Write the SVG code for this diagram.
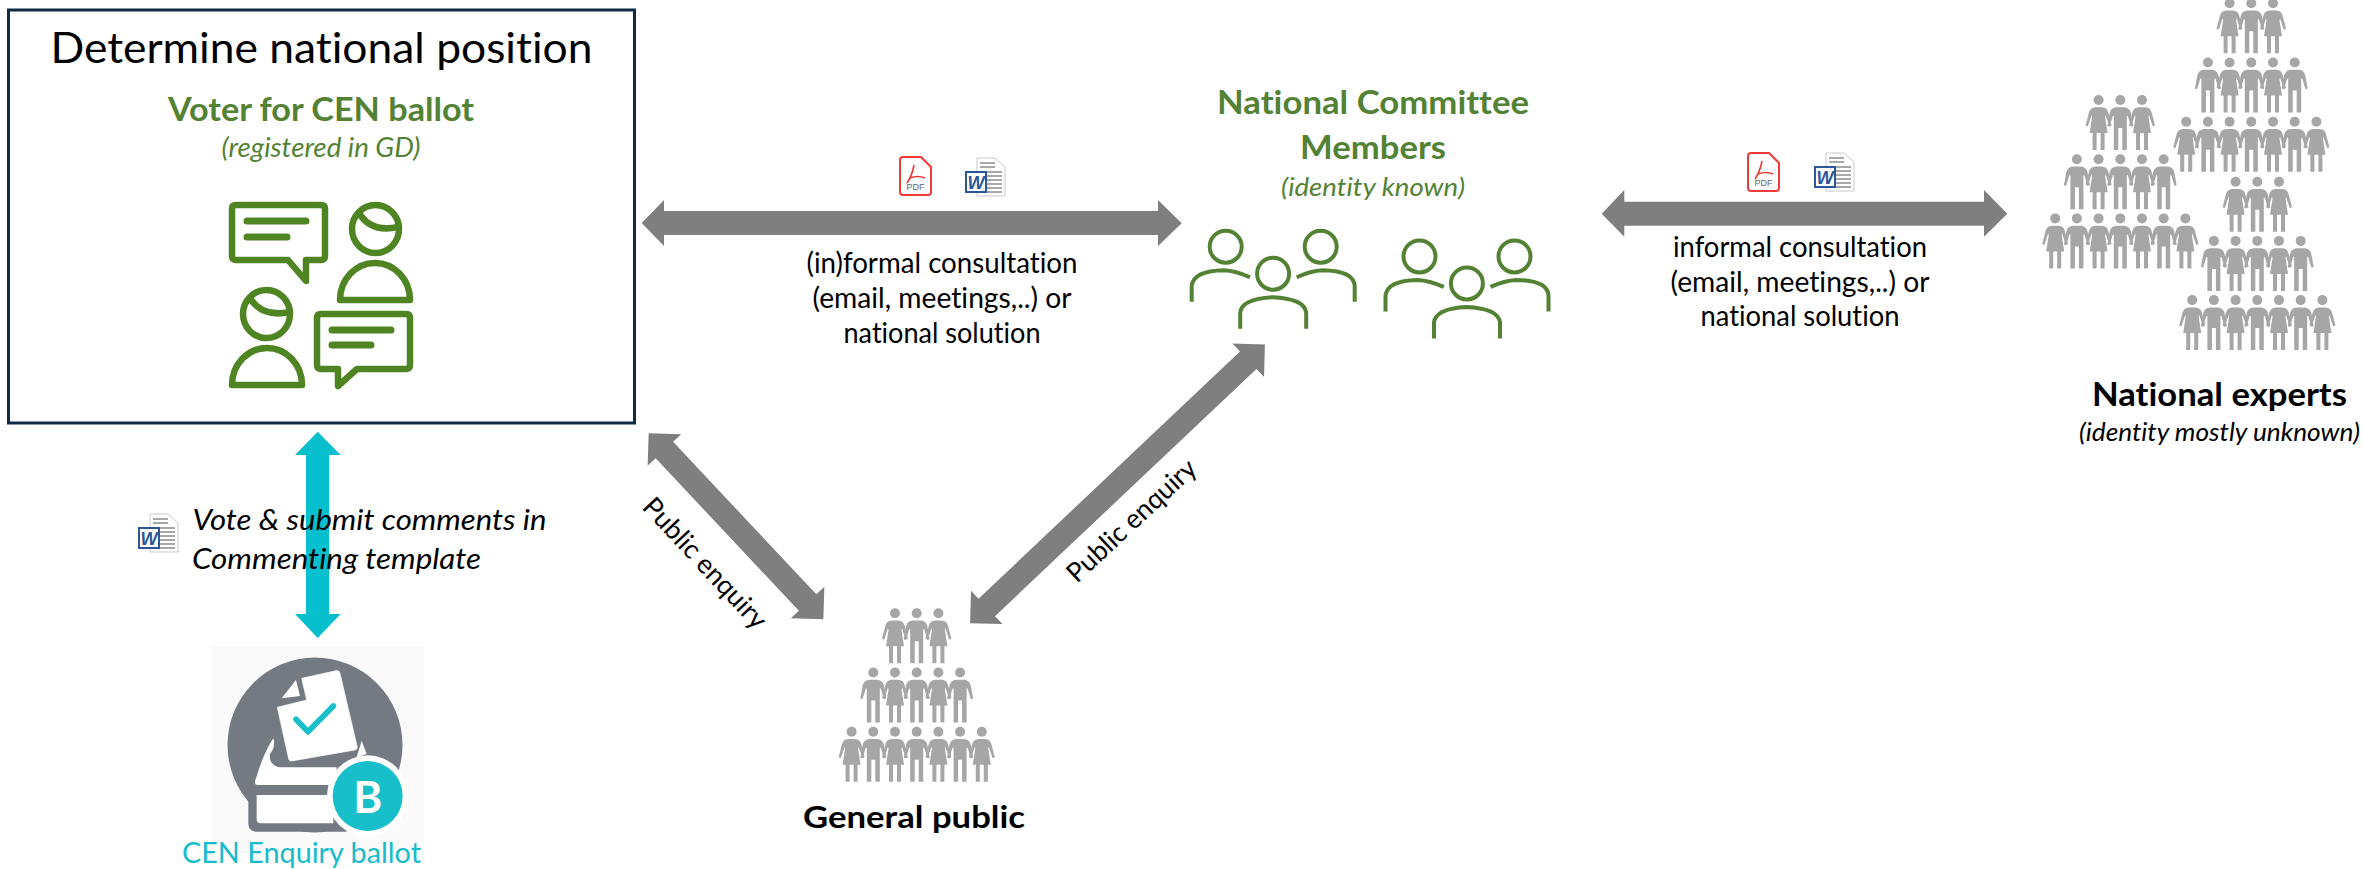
<svg xmlns="http://www.w3.org/2000/svg" xmlns:xlink="http://www.w3.org/1999/xlink" width="2363" height="869" viewBox="0 0 2363 869">
<style>
text{font-family:Lato,"Open Sans","Liberation Sans",sans-serif;fill:#000;text-anchor:middle;font-variant-ligatures:none}
.g{fill:#548235}
.b{font-weight:700}
.i{font-style:italic}
.arrow{fill:#7f7f7f}
.cyan{fill:#08bfcd}
.ic{fill:none;stroke:#4e8421;stroke-width:6.5;stroke-linecap:round;stroke-linejoin:round}
.pp{fill:none;stroke:#548235;stroke-width:4}
.fig{fill:#a6a6a6}
</style>
<defs>
<g id="w"><circle r="5" class="fig"/><path class="fig" d="M-3.5,7.3H3.5Q8,7.6 9.5,12L13,25.5L10.8,26.5L7,15L6.5,17L9,33H6V50H2V33H-2V50H-6V33H-9L-6.5,17L-7,15L-10.8,26.5L-13,25.5L-9.5,12Q-8,7.6 -3.5,7.3Z"/></g>
<g id="m"><circle r="5" class="fig"/><path class="fig" d="M-4,7.3H4Q9,7.6 10.5,12.5L13,26L10.8,26.8L7.5,16H6.5V50H2V28H-2V50H-6.5V16H-7.5L-10.8,26.8L-13,26L-10.5,12.5Q-9,7.6 -4,7.3Z"/></g>
<g id="pyr">
<use href="#w" x="-21.7"/><use href="#m"/><use href="#w" x="21.7"/>
<use href="#m" x="-43.4" y="59.2"/><use href="#w" x="-21.7" y="59.2"/><use href="#m" y="59.2"/><use href="#w" x="21.7" y="59.2"/><use href="#m" x="43.4" y="59.2"/>
<use href="#w" x="-65.1" y="118.4"/><use href="#m" x="-43.4" y="118.4"/><use href="#w" x="-21.7" y="118.4"/><use href="#m" y="118.4"/><use href="#w" x="21.7" y="118.4"/><use href="#m" x="43.4" y="118.4"/><use href="#w" x="65.1" y="118.4"/>
</g>
<g id="word">
<path d="M12,0H30L40,9V38H12Z" fill="#fff" stroke="#c8c8c8" stroke-width="1"/>
<path d="M15,5H30M15,9H30M22,14H37M22,18H37M22,22H37M22,26H37M22,30H37M15,34H37" stroke="#a8a8a8" stroke-width="2" fill="none"/>
<rect x="1" y="14" width="20" height="20" fill="#fff" stroke="#2b579a" stroke-width="2"/>
<text x="11" y="30.5" style="font-family:'Liberation Sans',sans-serif;font-weight:700;font-style:italic;font-size:18px;fill:#2b579a">W</text>
</g>
<g id="pdf">
<path d="M4,1H22L32,11V36Q32,39 29,39H4Q1,39 1,36V4Q1,1 4,1Z" fill="#fff" stroke="#f03a3a" stroke-width="2"/>
<path d="M15,9Q13,20 8,27M11,22Q19,19 26,22" fill="none" stroke="#e8382f" stroke-width="1.6"/>
<text x="16.5" y="34" style="font-family:'Liberation Sans',sans-serif;font-size:9px;fill:#666">PDF</text>
</g>
<g id="people">
<circle cx="0" cy="0" r="16"/>
<circle cx="95" cy="0" r="16"/>
<circle cx="47.4" cy="27" r="16"/>
<path d="M-34,55V39Q-32,24 -2,23.5Q10,24 24.3,30.5"/>
<path d="M71,30.5Q85,24 97,23.5Q128,24 129,39V55"/>
<path d="M14.5,82V66Q16,52 47,50.5Q79,52 80.5,66V82"/>
</g>
</defs>
<rect width="2363" height="869" fill="#fff"/>

<g id="national-position">
<rect x="8.5" y="10" width="626" height="413" fill="#fff" stroke="#0f2b46" stroke-width="3"/>
<text x="321.5" y="63" font-size="43" textLength="542" lengthAdjust="spacingAndGlyphs">Determine national position</text>
<text x="321" y="121" font-size="33" class="g b" textLength="306" lengthAdjust="spacingAndGlyphs">Voter for CEN ballot</text>
<text x="321" y="157" font-size="27" class="g i" textLength="199" lengthAdjust="spacingAndGlyphs">(registered in GD)</text>
<g class="ic">
<path d="M236,205H321Q325,205 325,209V256Q325,260 321,260H306V281L288,260H236Q232,260 232,256V209Q232,205 236,205Z"/>
<path d="M247,221H306M247,237H287" stroke-width="7"/>
<ellipse cx="375.5" cy="229" rx="23.5" ry="24"/>
<path d="M359,213Q371,233 398,227"/>
<path d="M340,300A35,37 0 0 1 410,300Z"/>
<ellipse cx="266.5" cy="314" rx="23.5" ry="24"/>
<path d="M250,298Q262,318 290,312"/>
<path d="M232,385A35,37 0 0 1 302,385Z"/>
<path d="M321,314H406Q410,314 410,318V365Q410,369 406,369H357L338,386V369H321Q317,369 317,365V318Q317,314 321,314Z"/>
<path d="M332,330H391M332,345H371" stroke-width="7"/>
</g>
</g>

<g id="connectors">
<path class="cyan" d="M317.7,431.7L340.7,455H329.3V614H340.7L317.7,638L295,614H306V455H295Z"/>
<path class="arrow" d="M641.7,223L664,200V211H1158V200L1181.7,223.3L1158,246V235H664V246Z"/>
<path class="arrow" d="M1601.7,213.7L1624.3,190V201.7H1984V190L2007.3,213.7L1984,236.7V225.7H1624.3V236.7Z"/>
<path class="arrow" transform="translate(736,526.3) rotate(46.8)" d="M-127.6,0L-104.6,-23V-12H104.6V-23L127.6,0L104.6,23V12H-104.6V23Z"/>
<path class="arrow" transform="translate(1117.5,483.8) rotate(-43.4)" d="M-202.9,0L-179.9,-23V-12H179.9V-23L202.9,0L179.9,23V12H-179.9V23Z"/>
</g>

<g id="connector-labels">
<use href="#word" x="138" y="514"/>
<text x="369.5" y="530" font-size="29" class="i" textLength="354" lengthAdjust="spacingAndGlyphs">Vote &amp; submit comments in</text>
<text x="336.5" y="569" font-size="29" class="i" textLength="289" lengthAdjust="spacingAndGlyphs">Commenting template</text>
<use href="#pdf" x="899" y="156"/>
<use href="#word" x="965" y="158"/>
<text x="942" y="273" font-size="28" textLength="271" lengthAdjust="spacingAndGlyphs">(in)formal consultation</text>
<text x="942" y="308" font-size="28" textLength="259" lengthAdjust="spacingAndGlyphs">(email, meetings,..) or</text>
<text x="942" y="343" font-size="28" textLength="197" lengthAdjust="spacingAndGlyphs">national solution</text>
<use href="#pdf" x="1747" y="152"/>
<use href="#word" x="1814" y="153"/>
<text x="1800" y="257" font-size="28" textLength="254" lengthAdjust="spacingAndGlyphs">informal consultation</text>
<text x="1800" y="292" font-size="28" textLength="259" lengthAdjust="spacingAndGlyphs">(email, meetings,..) or</text>
<text x="1800" y="326" font-size="28" textLength="199" lengthAdjust="spacingAndGlyphs">national solution</text>
<text transform="translate(641,508) rotate(47)" font-size="27" style="text-anchor:start" textLength="168" lengthAdjust="spacingAndGlyphs">Public enquiry</text>
<text transform="translate(1077,584) rotate(-43)" font-size="27" style="text-anchor:start" textLength="166" lengthAdjust="spacingAndGlyphs">Public enquiry</text>
</g>

<g id="national-committee">
<text x="1373" y="114" font-size="32" class="g b" textLength="312" lengthAdjust="spacingAndGlyphs">National Committee</text>
<text x="1373" y="159" font-size="32" class="g b" textLength="146" lengthAdjust="spacingAndGlyphs">Members</text>
<text x="1373" y="196" font-size="26" class="g i" textLength="184" lengthAdjust="spacingAndGlyphs">(identity known)</text>
<g class="pp"><use href="#people" x="1225.7" y="246.7"/><use href="#people" x="1419.5" y="256.4"/></g>
</g>

<g id="national-experts">
<use href="#pyr" x="2120.3" y="100"/>
<use href="#pyr" x="2251.3" y="3.3"/>
<use href="#pyr" x="2257.3" y="181.7"/>
<text x="2219.5" y="406" font-size="32" class="b" textLength="255" lengthAdjust="spacingAndGlyphs">National experts</text>
<text x="2219.5" y="441" font-size="26" class="i" textLength="281" lengthAdjust="spacingAndGlyphs">(identity mostly unknown)</text>
</g>

<g id="general-public">
<use href="#pyr" x="916.7" y="613.3"/>
<text x="914" y="828" font-size="31" class="b" textLength="222" lengthAdjust="spacingAndGlyphs">General public</text>
</g>

<g id="cen-enquiry-ballot">
<rect x="211" y="646" width="213" height="207" fill="#fafafa"/>
<circle cx="315" cy="745" r="87.5" fill="#747a82"/>
<g transform="translate(220,650) scale(0.3333)">
<path d="M85,425V520Q85,545 110,545H380V425Z" fill="#747a82"/>
<path d="M110,435H340V520H122Q110,520 110,508Z" fill="#fff"/>
<path d="M160,265Q168,290 150,312Q146,345 178,352H350V405H112Q100,405 108,385Q130,310 160,265Z" fill="#fff"/>
<path d="M425,272L440,312L410,322Z" fill="#fff"/>
<path d="M185,145L228,90L240,138Z" fill="#fff"/>
<path d="M245,85L348,62Q358,60 360,70L412,292Q412,298 405,300L215,333Q208,334 206,327L172,172L260,150Z" fill="#fff" stroke="#fff" stroke-width="2" stroke-linejoin="round"/>
<path d="M228,208L264,245L340,168" fill="none" stroke="#17bfcb" stroke-width="17" stroke-linecap="round" stroke-linejoin="round"/>
<circle cx="443" cy="438" r="122" fill="#fff"/>
<circle cx="443" cy="438" r="105" fill="#17bfcb"/>
</g>
<text x="367.7" y="813" font-size="44" class="b" style="fill:#fff">B</text>
<text x="301.5" y="863" font-size="28" style="fill:#17bccb" textLength="239" lengthAdjust="spacingAndGlyphs">CEN Enquiry ballot</text>
</g>
</svg>
